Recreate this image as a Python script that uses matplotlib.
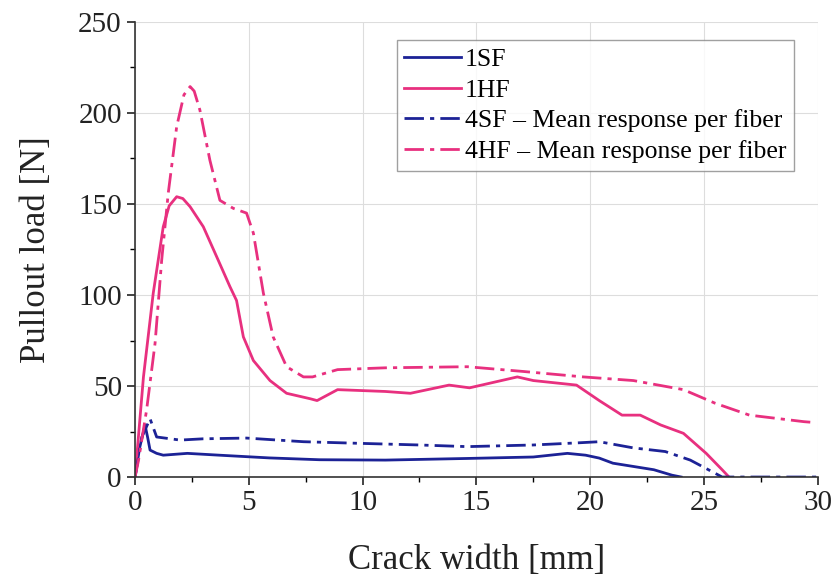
import numpy as np
import matplotlib.pyplot as plt
from matplotlib.ticker import MultipleLocator

# 1SF - single straight fiber
x_1sf = [0, 0.2, 0.44, 0.55, 0.66, 0.95, 1.24, 2.3, 3.7, 5.9, 8.1, 11.0, 14.6, 17.5, 19.0, 19.8, 20.4, 21.0, 22.8, 23.6, 24.0]
y_1sf = [0, 16, 28.5, 22, 14.8, 13, 12, 13, 12, 10.5, 9.5, 9.3, 10.2, 11, 13, 12, 10.4, 7.6, 4, 1, 0]

# 1HF - single hooked fiber
x_1hf = [0, 0.37, 0.8, 1.24, 1.5, 1.83, 2.1, 2.42, 3.0, 3.66, 4.17, 4.46, 4.76, 5.2, 5.93, 6.66, 7.7, 8.0, 8.9,
         11.0, 12.1, 13.8, 14.7, 16.8, 17.5, 19.4, 20.4, 21.4, 22.2, 23.1, 24.1, 25.1, 25.8, 26.1]
y_1hf = [0, 55, 101, 137.5, 149, 154, 153, 148.5, 137.5, 119, 104.6, 97, 77, 64, 53, 46, 43, 42, 48,
         47, 46, 50.5, 49, 55, 53, 50.5, 42, 34, 34, 28.6, 24, 13, 4, 0]

# 4SF - mean response per fiber
x_4sf = [0, 0.3, 0.66, 0.95, 1.98, 3.0, 4.9, 7.4, 9.6, 12.5, 14.6, 17.5, 19.5, 20.4, 21.9, 23.3, 24.4, 25.5, 25.8, 27, 30]
y_4sf = [0, 22, 32, 22, 20.3, 21, 21.4, 19.4, 18.6, 17.6, 16.7, 17.6, 18.8, 19.4, 16, 14, 9.3, 2, 0, 0, 0]

# 4HF - mean response per fiber
x_4hf = [0, 0.15, 0.51, 0.88, 1.17, 1.46, 1.83, 2.15, 2.42, 2.6, 2.85, 3.29, 3.73, 4.32, 4.9, 5.2, 5.64, 6.07, 6.66,
         7.4, 7.8, 8.9, 11.0, 14.6, 17.05, 19.7, 21.9, 24.1, 25.5, 27.0, 29.4, 29.8]
y_4hf = [0, 9, 37, 73.5, 119, 156, 192.5, 210, 214.5, 212, 201.6, 174, 152, 147.6, 145, 134, 101, 77, 60.6,
         55, 55, 59, 60, 60.6, 58, 55, 53, 48, 40.5, 34, 30.4, 30]

plt.rcParams['font.family'] = ['Liberation Serif', 'DejaVu Serif']

fig = plt.figure(figsize=(8.31, 5.78), dpi=100)
ax = fig.add_axes([0.1625, 0.1747, 0.8215, 0.7873])

navy = '#1c2296'
pink = '#e8307f'
dd = (0, (7, 2.2, 1.5, 2.2))

ax.plot(x_1sf, y_1sf, color=navy, lw=2, label='1SF')
ax.plot(x_1hf, y_1hf, color=pink, lw=2, label='1HF')
ax.plot(x_4sf, y_4sf, color=navy, lw=2, linestyle=dd, label='4SF – Mean response per fiber')
ax.plot(x_4hf, y_4hf, color=pink, lw=2, linestyle=dd, label='4HF – Mean response per fiber')

ax.set_xlim(0, 30)
ax.set_ylim(0, 250)
ax.xaxis.set_major_locator(MultipleLocator(5))
ax.xaxis.set_minor_locator(MultipleLocator(2.5))
ax.yaxis.set_major_locator(MultipleLocator(50))
ax.yaxis.set_minor_locator(MultipleLocator(25))
ax.grid(True, which='major', color='#dddddd', lw=0.8)
ax.set_axisbelow(True)

for s in ['top', 'right']:
    ax.spines[s].set_visible(False)
for s in ['left', 'bottom']:
    ax.spines[s].set_linewidth(1.2)
    ax.spines[s].set_color('#333333')

ax.tick_params(which='major', direction='out', length=6, width=1.2, labelsize=21, colors='#222222')
ax.tick_params(which='minor', direction='out', length=3.5, width=1.0)

ax.set_xlabel('Crack width [mm]', fontsize=25, labelpad=20, color='#222222')
ax.set_ylabel('Pullout load [N]', fontsize=25, labelpad=18, color='#222222')

leg = ax.legend(loc='upper right', bbox_to_anchor=(0.965, 0.96), fontsize=18.5, frameon=True, fancybox=False,
                edgecolor='#888888', handlelength=2.2, handletextpad=0.15, borderpad=0.3,
                labelspacing=0.3, borderaxespad=0)
leg.get_frame().set_linewidth(1.0)

fig.savefig('out.png', dpi=100)
